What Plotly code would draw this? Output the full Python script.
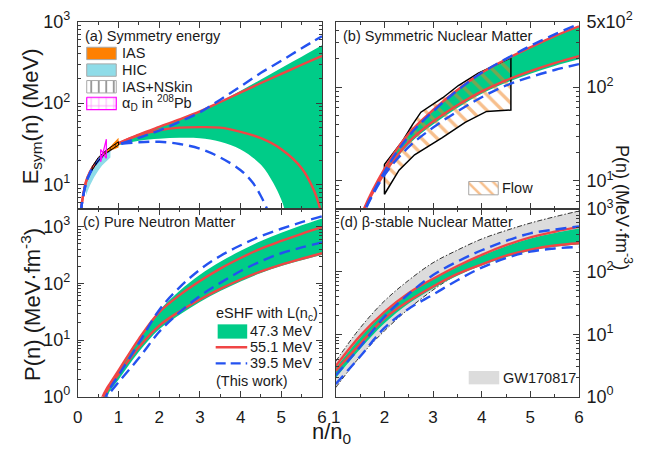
import math
import plotly.graph_objects as go

W, H = 647, 461
FONT = "Liberation Sans, Arial, Helvetica, sans-serif"

GREEN = "#00cc88"
RED = "#f04545"
BLUE = "#2452f0"
ORANGE = "#ff8000"
HIC_BLUE = "#8fdce8"
MAGENTA = "#ff00ff"
GW_GRAY = "#dcdcdc"
FLOW_ORANGE = "#f07f1a"
AX = "#3a3a3a"
TXT = "#1a1a1a"

# ---------------- (a) symmetry energy E_sym(n) [MeV] ----------------
xa_red_up = [0.07, 0.1, 0.2, 0.3, 0.4, 0.5, 0.6, 0.7, 0.8, 0.9, 1.0, 1.5, 2.0, 2.5, 3.0, 3.5, 4.0, 4.5, 5.0, 5.5, 6.0]
esym_red_up = [4.6, 6.0, 10.8, 14.3, 17.3, 20.0, 22.6, 25.0, 27.4, 29.8, 32.2, 41, 51, 63, 79, 103, 135, 176, 228, 295, 380]
xa_red_lo = [0.07, 0.1, 0.2, 0.3, 0.4, 0.5, 0.6, 0.7, 0.8, 0.9, 1.0, 1.5, 2.0, 2.5, 3.0, 3.5, 4.0, 4.5, 5.0, 5.5, 5.8, 6.0]
esym_red_lo = [4.6, 6.0, 10.8, 14.3, 17.3, 20.0, 22.6, 25.0, 27.3, 29.6, 31.9, 40.5, 46.4, 49.9, 50.7, 49.9, 44.4, 37.1, 27.2, 15.9, 8.5, 4.2]
xa_blue_up = [0.07, 0.1, 0.2, 0.3, 0.4, 0.5, 0.6, 0.7, 0.8, 0.9, 1.0, 1.5, 2.0, 2.5, 3.0, 3.5, 4.0, 4.5, 5.0, 5.5, 6.0]
esym_blue_up = [4.5, 5.8, 10.4, 13.9, 16.9, 19.6, 22.2, 24.6, 26.9, 29.0, 31.0, 37.5, 46, 59, 77, 110, 160, 235, 330, 470, 660]
xa_blue_lo = [0.07, 0.1, 0.2, 0.3, 0.4, 0.5, 0.6, 0.7, 0.8, 0.9, 1.0, 1.5, 2.0, 2.5, 3.0, 3.5, 4.0, 4.3, 4.5, 4.65, 4.75]
esym_blue_lo = [4.5, 5.8, 10.4, 13.9, 16.9, 19.6, 22.2, 24.6, 26.9, 29.0, 31.0, 33.0, 33.5, 31.5, 27.5, 21.5, 15.0, 10.5, 7.2, 5.0, 3.6]
xa_band_up = [0.07, 0.1, 0.2, 0.3, 0.4, 0.5, 0.6, 0.7, 0.8, 0.9, 1.0, 1.5, 2.0, 2.5, 3.0, 3.5, 4.0, 4.5, 5.0, 5.5, 6.0]
esym_band_up = [4.6, 6.0, 10.8, 14.3, 17.3, 20.0, 22.6, 25.0, 27.4, 29.8, 32.2, 41, 51, 63, 79, 104, 142, 195, 270, 370, 510]
xa_band_lo = [0.07, 0.1, 0.2, 0.3, 0.4, 0.5, 0.6, 0.7, 0.8, 0.9, 1.0, 1.5, 2.0, 2.5, 3.0, 3.5, 4.0, 4.5, 4.8, 5.0, 5.2, 6.0]
esym_band_lo = [4.4, 5.6, 10.0, 13.5, 16.4, 19.0, 21.5, 23.8, 26.0, 28.2, 30.2, 34.5, 36.5, 37.5, 37.0, 33.5, 27.0, 17.5, 10.5, 6.5, 3.5, 1.0]

# experimental constraints at sub-saturation density
hic_x = [0.2, 0.3, 0.4, 0.5, 0.6, 0.7, 0.8]
hic_up = [11.0, 14.5, 17.8, 20.5, 23.0, 25.2, 27.2]
hic_lo = [7.4, 9.8, 12.3, 14.8, 17.2, 19.5, 21.5]
ias_x = [0.7, 0.8, 0.9, 1.0]
ias_up = [26.0, 29.5, 33.5, 37.5]
ias_lo = [24.0, 26.0, 27.5, 28.5]
skin_x = [0.35, 0.5, 0.7, 0.85, 1.0]
skin_up = [16.5, 21.5, 26.5, 30.0, 33.5]
skin_lo = [15.0, 19.5, 24.5, 27.5, 30.5]
alphad_x = [0.56, 0.70, 0.70, 0.56]
alphad_e = [19.0, 36.0, 21.0, 27.0]

# ---------------- (b) symmetric nuclear matter P(n) [MeV fm^-3] ----------------
xb = [1.4, 1.5, 2.0, 2.5, 3.0, 3.5, 4.0, 4.5, 5.0, 5.5, 6.0]
pb_red_up = [2.6, 4.0, 13.4, 32, 57, 93, 142, 198, 265, 350, 445]
pb_red_lo = [2.5, 3.9, 12.0, 26, 43, 64, 90, 118, 148, 180, 214]
pb_blue_up = [2.4, 3.7, 12.5, 30, 55, 92, 142, 200, 275, 365, 470]
pb_blue_lo = [2.4, 3.7, 11.5, 23, 37, 55, 78, 104, 128, 152, 176]
pb_band_up = [2.5, 3.9, 13.2, 31.5, 56, 92, 140, 195, 262, 345, 440]
pb_band_lo = [2.4, 3.8, 11.6, 24.5, 40, 60, 85, 111, 139, 168, 198]
flow_x_up = [2.0, 2.38, 2.58, 2.75, 3.2, 3.52, 3.93, 4.33, 4.6]
flow_p_up = [15.0, 27.0, 40.0, 54.0, 77.0, 104, 141, 176, 205]
flow_x_lo = [4.6, 4.1, 3.66, 3.19, 2.62, 2.3, 2.0]
flow_p_lo = [57.0, 55.0, 42.0, 29.0, 19.0, 13.0, 7.2]

# ---------------- (c) pure neutron matter ----------------
xc = [0.5, 0.6, 0.7, 0.8, 1.0, 1.5, 2.0, 2.5, 3.0, 3.5, 4.0, 4.5, 5.0, 5.5, 6.0]
pc_red_up = [0.55, 0.97, 1.35, 1.75, 2.9, 10.5, 31, 62, 110, 182, 280, 410, 560, 750, 980]
pc_red_lo = [0.5, 0.82, 1.2, 1.6, 2.5, 7.5, 18, 32, 52, 80, 117, 163, 215, 272, 340]
pc_blue_up = [0.4, 0.7, 1.05, 1.45, 2.4, 8.8, 34, 85, 175, 305, 470, 680, 920, 1200, 1520]
pc_blue_lo = [0.35, 0.6, 0.9, 1.2, 1.8, 4.8, 14, 31, 60, 102, 165, 245, 340, 430, 530]
pc_band_up = [0.5, 0.92, 1.35, 1.8, 3.0, 10.8, 33, 74, 142, 240, 375, 560, 780, 1060, 1400]
pc_band_lo = [0.35, 0.62, 0.95, 1.3, 2.0, 6.2, 15.5, 28, 47, 73, 108, 152, 202, 257, 318]

# ---------------- (d) beta-stable nuclear matter ----------------
xd = [1.0, 1.5, 2.0, 2.5, 3.0, 3.5, 4.0, 4.5, 5.0, 5.5, 6.0]
pd_gw_up = [3.7, 12.6, 34, 73, 139, 221, 333, 455, 598, 755, 933]
pd_gw_lo = [1.4, 4.4, 11.3, 25.5, 51, 92, 156, 235, 314, 375, 421]
pd_red_up = [3.1, 9.4, 22.7, 45.7, 77, 123, 186, 265, 353, 435, 520]
pd_red_lo = [2.6, 7.0, 17.9, 34, 58, 92, 131, 180, 225, 262, 285]
pd_blue_up = [2.2, 6.3, 19, 44, 88, 145, 220, 310, 410, 470, 530]
pd_blue_lo = [1.6, 4.4, 12.6, 25.5, 43, 73, 116, 165, 209, 235, 249]
pd_band_up = [2.9, 8.8, 22, 44, 76, 120, 180, 255, 340, 415, 490]
pd_band_lo = [2.0, 5.8, 15, 31, 54, 86, 125, 170, 215, 250, 272]

# legend entries
leg_a = ["IAS", "HIC", "IAS+NSkin", "α<sub>D</sub> in <sup>208</sup>Pb"]
leg_c_title = "eSHF with L(n<sub>c</sub>)"
leg_c = ["47.3 MeV", "55.1 MeV", "39.5 MeV"]
leg_c_note = "(This work)"

fig = go.Figure()
PA, PB, PC, PD, OV = ("x", "y"), ("x2", "y2"), ("x3", "y3"), ("x4", "y4"), ("x5", "y5")


def band(xlo, ylo, xhi, yhi, ax, color):
    fig.add_trace(go.Scatter(x=xlo, y=ylo, mode="lines", line=dict(width=0, shape="spline"),
                             xaxis=ax[0], yaxis=ax[1], hoverinfo="skip", showlegend=False))
    fig.add_trace(go.Scatter(x=xhi, y=yhi, mode="lines", line=dict(width=0, shape="spline"),
                             fill="tonexty", fillcolor=color,
                             xaxis=ax[0], yaxis=ax[1], hoverinfo="skip", showlegend=False))


def curve(x, y, ax, color, dash=None, width=2.4):
    fig.add_trace(go.Scatter(x=x, y=y, mode="lines",
                             line=dict(color=color, width=width, shape="spline", dash=dash),
                             xaxis=ax[0], yaxis=ax[1], hoverinfo="skip", showlegend=False))


def patch(x, y, ax, fillcolor, linecolor=None, linewidth=0, pattern=None):
    fig.add_trace(go.Scatter(x=x, y=y, mode="lines", fill="toself", fillcolor=fillcolor,
                             line=dict(color=linecolor or fillcolor, width=linewidth),
                             fillpattern=pattern,
                             xaxis=ax[0], yaxis=ax[1], hoverinfo="skip", showlegend=False))


def hatch(shape, color, size, solidity):
    return dict(shape=shape, fgcolor=color, bgcolor="rgba(0,0,0,0)", size=size, solidity=solidity)


BLUE_DASH = "11px,6px"
GW_DASH = "5px,2px,1.5px,2px"

# (a)
band(xa_band_lo, esym_band_lo, xa_band_up, esym_band_up, PA, GREEN)
patch(hic_x + hic_x[::-1], hic_up + hic_lo[::-1], PA, HIC_BLUE)
curve(xa_red_up, esym_red_up, PA, RED)
curve(xa_red_lo, esym_red_lo, PA, RED)
curve(xa_blue_up, esym_blue_up, PA, BLUE, BLUE_DASH)
curve(xa_blue_lo, esym_blue_lo, PA, BLUE, BLUE_DASH)
patch(ias_x + ias_x[::-1], ias_up + ias_lo[::-1], PA, ORANGE)
patch(skin_x + skin_x[::-1] + skin_x[:1], skin_up + skin_lo[::-1] + skin_up[:1], PA,
      "rgba(0,0,0,0)", "black", 1.0, hatch("|", "black", 5, 0.25))
patch(alphad_x + alphad_x[:1], alphad_e + alphad_e[:1], PA, "rgba(0,0,0,0)", MAGENTA, 1.2,
      hatch("+", MAGENTA, 6, 0.15))

# (b)
band(xb, pb_band_lo, xb, pb_band_up, PB, GREEN)
patch(flow_x_up + flow_x_lo + flow_x_up[:1], flow_p_up + flow_p_lo + flow_p_up[:1], PB,
      "rgba(0,0,0,0)", "black", 1.5, hatch("\\", FLOW_ORANGE, 11, 0.3))
curve(xb, pb_red_up, PB, RED)
curve(xb, pb_red_lo, PB, RED)
curve(xb, pb_blue_up, PB, BLUE, BLUE_DASH)
curve(xb, pb_blue_lo, PB, BLUE, BLUE_DASH)

# (c)
band(xc, pc_band_lo, xc, pc_band_up, PC, GREEN)
curve(xc, pc_red_up, PC, RED)
curve(xc, pc_red_lo, PC, RED)
curve(xc, pc_blue_up, PC, BLUE, BLUE_DASH)
curve(xc, pc_blue_lo, PC, BLUE, BLUE_DASH)

# (d)
band(xd, pd_gw_lo, xd, pd_gw_up, PD, GW_GRAY)
curve(xd, pd_gw_up, PD, "black", GW_DASH, 0.8)
curve(xd, pd_gw_lo, PD, "black", GW_DASH, 0.8)
band(xd, pd_band_lo, xd, pd_band_up, PD, GREEN)
curve(xd, pd_red_up, PD, RED)
curve(xd, pd_red_lo, PD, RED)
curve(xd, pd_blue_up, PD, BLUE, BLUE_DASH)
curve(xd, pd_blue_lo, PD, BLUE, BLUE_DASH)


# ---------- legend swatches, drawn on a full-figure pixel overlay ----------
def box(x0, y0, w, h, fill, edge=None, pattern=None, ew=1.0):
    fig.add_trace(go.Scatter(x=[x0, x0 + w, x0 + w, x0, x0], y=[y0, y0, y0 + h, y0 + h, y0],
                             mode="lines", fill="toself", fillcolor=fill, fillpattern=pattern,
                             line=dict(color=edge or "rgba(0,0,0,0)", width=ew if edge else 0),
                             xaxis=OV[0], yaxis=OV[1], hoverinfo="skip", showlegend=False))


def seg(x0, x1, y, color, dash=None, width=2.4):
    fig.add_trace(go.Scatter(x=[x0, x1], y=[y, y], mode="lines",
                             line=dict(color=color, width=width, dash=dash),
                             xaxis=OV[0], yaxis=OV[1], hoverinfo="skip", showlegend=False))


EDGE = "#a8a8a8"
rows_a = [43.5, 61.0, 78.5, 96.0]
box(83, rows_a[0] - 6.5, 30, 13, ORANGE, EDGE)
box(83, rows_a[1] - 6.5, 30, 13, HIC_BLUE, EDGE)
box(83, rows_a[2] - 6.5, 30, 13, "rgba(0,0,0,0)", EDGE, hatch("|", "black", 7.5, 0.2))
box(83, rows_a[3] - 6.5, 30, 13, "rgba(0,0,0,0)", MAGENTA, hatch("+", MAGENTA, 7.5, 0.16), 1.2)
box(471, 178, 30, 14, "rgba(0,0,0,0)", EDGE, hatch("\\", FLOW_ORANGE, 9, 0.28))
box(471, 377, 31, 14, GW_GRAY)
rows_c = [335.5, 352.0, 369.0]
box(216, rows_c[0] - 7.5, 30, 15, GREEN)
seg(214, 246, rows_c[1], RED)
seg(214, 246, rows_c[2], BLUE, "10px,5px")


def ann(text, px, py, size, xanchor="left", angle=0):
    fig.add_annotation(x=px / W, y=1 - py / H, xref="paper", yref="paper", text=text,
                       showarrow=False, xanchor=xanchor, yanchor="middle", textangle=angle,
                       font=dict(size=size, family=FONT, color=TXT))


for lab, r in zip(leg_a, rows_a):
    ann(lab, 117, r, 14.5)
ann("Flow", 503, 185, 14.5)
ann("GW170817", 504, 384, 14.5)
ann(leg_c_title, 212, 317, 14.5)
for lab, r in zip(leg_c, rows_c):
    ann(lab, 247, r, 14.5)
ann(leg_c_note, 212, 387, 14.5)

ann("(a) Symmetry energy", 79, 25, 14.5)
ann("(b) Symmetric Nuclear Matter", 341, 25, 14.5)
ann("(c) Pure Neutron Matter", 77, 220, 14.5)
ann("(d) β-stable Nuclear Matter", 338, 220, 14.5)

ann("E<sub>sym</sub>(n) (MeV)", 27, 110, 22, "center", -90)
ann("P(n) (MeV·fm<sup>-3</sup>)", 27, 307, 22, "center", -90)
ann("P(n) (MeV·fm<sup>-3</sup>)", 628, 205, 18, "center", 90)
ann("n/n<sub>0</sub>", 332, 442, 22, "center")


# ---------------- axes ----------------
def minor_log(lo, hi):
    vals = []
    for k in range(-1, 4):
        for m in range(2, 10):
            v = m * 10 ** k
            if lo * 1.001 < v < hi * 0.999:
                vals.append(v)
    return vals


base = dict(showline=True, linecolor=AX, linewidth=1, mirror="ticks", ticks="inside",
            ticklen=6, tickwidth=1, tickcolor=AX, showgrid=False, zeroline=False)


def xax(domain, anchor, rng, labels):
    d = dict(base)
    d.update(domain=domain, anchor=anchor, range=rng, dtick=1, tick0=0, showticklabels=labels,
             ticklabelstandoff=5, tickfont=dict(size=17, family=FONT, color=TXT),
             minor=dict(ticks="inside", ticklen=3, tickcolor=AX, dtick=0.5, tick0=0, showgrid=False))
    return d


def yax(domain, anchor, lo, hi, tickvals, ticktext, side="left"):
    d = dict(base)
    d.update(domain=domain, anchor=anchor, type="log", range=[math.log10(lo), math.log10(hi)],
             tickmode="array", tickvals=tickvals, ticktext=ticktext, side=side,
             ticklabelstandoff=3, tickfont=dict(size=18, family=FONT, color=TXT),
             minor=dict(ticks="inside", ticklen=3, tickcolor=AX, tickmode="array",
                        tickvals=minor_log(lo, hi), showgrid=False))
    return d


DX_L = [74 / W, 322 / W]
DX_R = [336 / W, 583 / W]
DY_T = [1 - 207 / H, 1 - 10 / H]
DY_B = [1 - 404 / H, 1 - 207 / H]

p10 = ["10<sup>0</sup>", "10<sup>1</sup>", "10<sup>2</sup>", "10<sup>3</sup>"]

fig.update_layout(
    width=W, height=H, margin=dict(l=0, r=0, t=0, b=0),
    paper_bgcolor="white", plot_bgcolor="rgba(0,0,0,0)", showlegend=False,
    font=dict(family=FONT, color=TXT),
    xaxis=xax(DX_L, "y", [0, 6], False),
    yaxis=yax(DY_T, "x", 5, 1000, [10, 100, 1000], p10[1:]),
    xaxis2=xax(DX_R, "y2", [1, 6], False),
    yaxis2=yax(DY_T, "x2", 5, 500, [10, 100, 500],
               ["10<sup>1</sup>", "10<sup>2</sup>", "5x10<sup>2</sup>"], "right"),
    xaxis3=xax(DX_L, "y3", [0, 6], True),
    yaxis3=yax(DY_B, "x3", 1, 10 ** 3.31, [1, 10, 100, 1000], p10),
    xaxis4=xax(DX_R, "y4", [1, 6], True),
    yaxis4=yax(DY_B, "x4", 1, 1000, [1, 10, 100, 1000], p10, "right"),
    xaxis5=dict(domain=[0, 1], anchor="y5", range=[0, W], visible=False),
    yaxis5=dict(domain=[0, 1], anchor="x5", range=[H, 0], visible=False),
)

fig.write_html("out.html")
